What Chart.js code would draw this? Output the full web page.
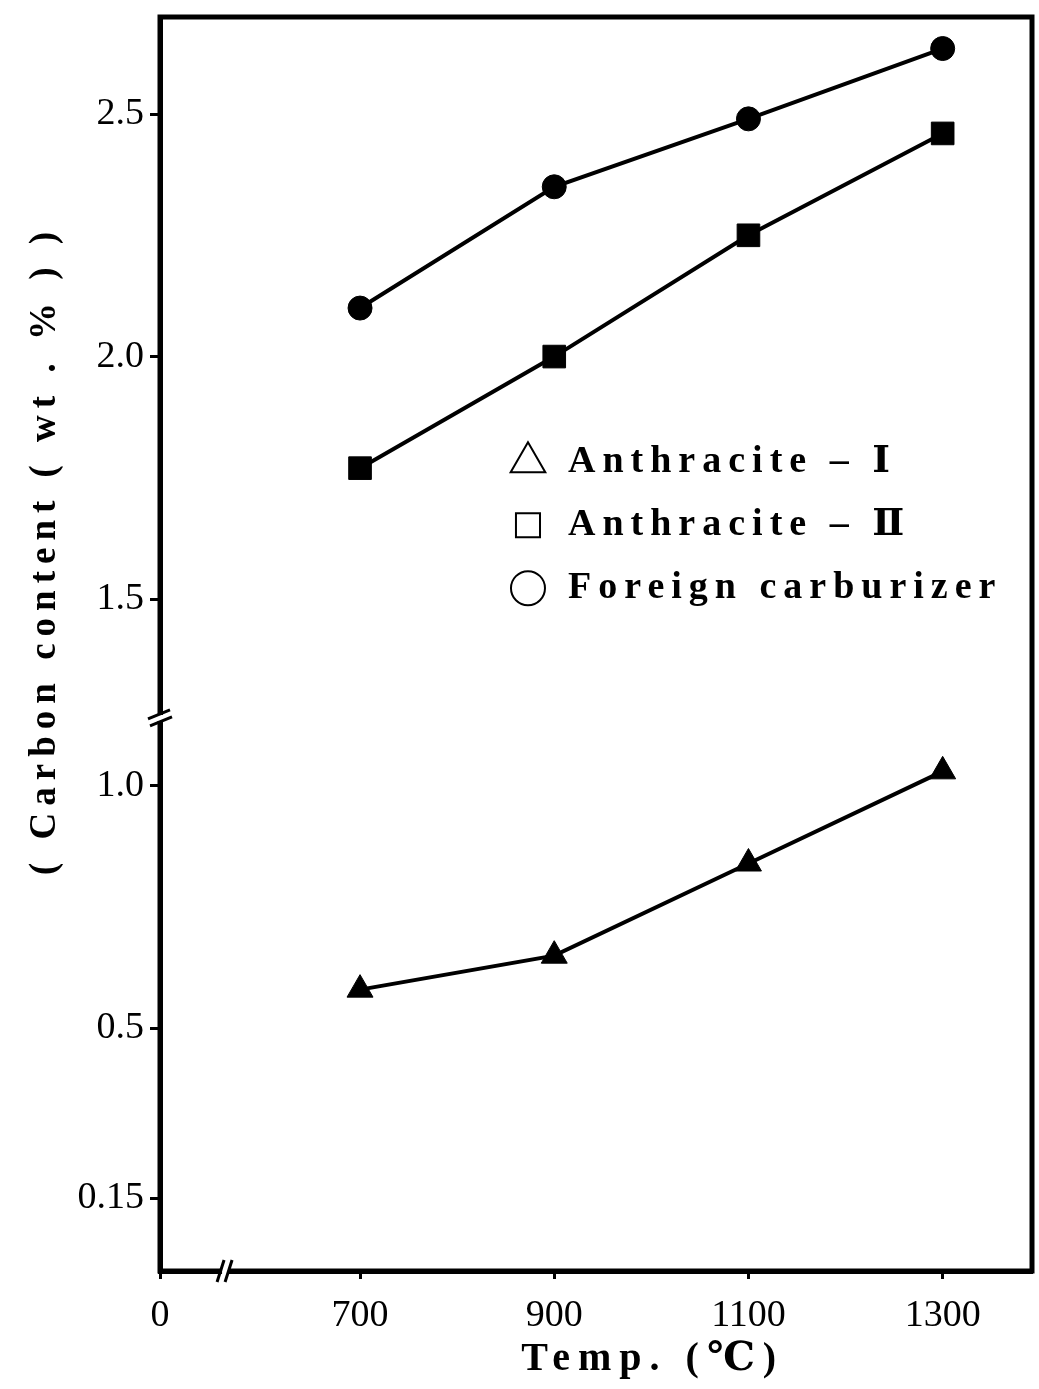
<!DOCTYPE html>
<html>
<head>
<meta charset="utf-8">
<title>Carbon content vs temperature</title>
<script src="https://cdn.jsdelivr.net/npm/chart.js@4.4.1/dist/chart.umd.min.js"></script>
<style>
  html, body { margin: 0; padding: 0; background: #fff; }
  canvas { display: block; }
</style>
</head>
<body>
<canvas id="myChart" width="1039" height="1389"></canvas>
<script>
// values
var temps = [700, 900, 1100, 1300];
var anthraciteI = [0.58, 0.65, 0.84, 1.03];
var anthraciteII = [1.77, 2.00, 2.25, 2.46];
var foreignCarburizer = [2.10, 2.35, 2.49, 2.635];

var seriesNames = ['Anthracite – Ⅰ', 'Anthracite – Ⅱ', 'Foreign carburizer'];
var xTicks = [0, 700, 900, 1100, 1300];
var yTicks = [0.15, 0.5, 1.0, 1.5, 2.0, 2.5];
var yTickLabels = ['0.15', '0.5', '1.0', '1.5', '2.0', '2.5'];
var xTitle = 'Temp. (℃)';
var yTitle = '( Carbon content ( wt . % ) )';

var serif = '"Liberation Serif", "DejaVu Serif", serif';

// linear scale with one cut-out piece (the broken axes of the figure)
class BrokenLinearScale extends Chart.LinearScale {
    fold(v) {
        var b = this.options.brk;
        if (!b || v <= b.from) return v;
        if (v >= b.to) return v - (b.to - b.from);
        return b.from;
    }
    configure() {
        super.configure();
        this._startValue = this.fold(this.min);
        this._endValue = this.fold(this.max);
        this._valueRange = this._endValue - this._startValue;
    }
    getPixelForValue(value) {
        return super.getPixelForValue(value == null ? value : this.fold(value));
    }
    getValueForPixel(pixel) {
        var v = super.getValueForPixel(pixel);
        var b = this.options.brk;
        return b && v > b.from ? v + (b.to - b.from) : v;
    }
}
BrokenLinearScale.id = 'brokenLinear';
BrokenLinearScale.defaults = {};
Chart.register(BrokenLinearScale);

function toPoints(values) {
    return temps.map(function (t, i) { return { x: t, y: values[i] }; });
}

// frame, break marks, titles and the boxed legend
var decorations = {
    id: 'decorations',
    afterDraw: function (chart) {
        var ctx = chart.ctx;
        var ca = chart.chartArea;
        var xs = chart.scales.x, ys = chart.scales.y;

        ctx.save();
        ctx.strokeStyle = '#000';
        ctx.lineWidth = 5;
        ctx.strokeRect(ca.left, ca.top, ca.right - ca.left, ca.bottom - ca.top);

        // break marks
        ctx.lineWidth = 3;
        var by = ys.getPixelForValue(ys.options.brk.from);
        ctx.fillStyle = '#fff';
        ctx.fillRect(ca.left - 4, by - 3, 8, 6);
        ctx.beginPath();
        ctx.moveTo(ca.left - 12, by + 1); ctx.lineTo(ca.left + 10, by - 8);
        ctx.moveTo(ca.left - 10, by + 8); ctx.lineTo(ca.left + 12, by - 1);
        ctx.stroke();
        var bx = xs.getPixelForValue(xs.options.brk.from);
        ctx.fillRect(bx - 3, ca.bottom - 4, 6, 8);
        ctx.beginPath();
        ctx.moveTo(bx - 8, ca.bottom + 11); ctx.lineTo(bx - 1, ca.bottom - 11);
        ctx.moveTo(bx, ca.bottom + 11); ctx.lineTo(bx + 7, ca.bottom - 11);
        ctx.stroke();

        // axis titles
        ctx.fillStyle = '#000';
        ctx.textAlign = 'center';
        ctx.textBaseline = 'middle';
        ctx.font = 'bold 37px ' + serif;
        ctx.letterSpacing = '7px';
        ctx.save();
        ctx.translate(45, ca.top + (ca.bottom - ca.top) * 0.425);
        ctx.rotate(-Math.PI / 2);
        ctx.fillText(yTitle, 0, 0);
        ctx.restore();
        ctx.font = 'bold 40px ' + serif;
        ctx.letterSpacing = '8px';
        ctx.fillText(xTitle, ca.left + (ca.right - ca.left) * 0.565, 1360);

        // legend with open symbols
        var lx = ca.left + (ca.right - ca.left) * 0.422;
        var ly = ca.top + (ca.bottom - ca.top) * 0.355;
        var sizes = { triangle: 20, rect: 17, circle: 17 };
        ctx.font = 'bold 38px ' + serif;
        ctx.letterSpacing = '7px';
        ctx.textAlign = 'left';
        chart.data.datasets.forEach(function (ds, i) {
            var y = ly + i * 63;
            ctx.fillStyle = '#fff';
            ctx.strokeStyle = '#000';
            ctx.lineWidth = 2;
            Chart.helpers.drawPoint(ctx, {
                pointStyle: ds.pointStyle, radius: sizes[ds.pointStyle],
                rotation: 0, borderWidth: 2
            }, lx, y);
            ctx.fillStyle = '#000';
            ctx.fillText(ds.label, lx + 40, y);
        });
        ctx.restore();
    }
};

function seriesStyle(style, radius) {
    return {
        pointStyle: style,
        pointRadius: radius,
        pointHoverRadius: radius,
        borderColor: '#000',
        backgroundColor: '#000',
        pointBackgroundColor: '#000',
        pointBorderColor: '#000',
        pointBorderWidth: 1,
        borderWidth: 4,
        tension: 0
    };
}

var ctx = document.getElementById('myChart').getContext('2d');
var myChart = new Chart(ctx, {
    type: 'line',
    data: {
        datasets: [
            Object.assign({ label: seriesNames[0], data: toPoints(anthraciteI) }, seriesStyle('triangle', 15)),
            Object.assign({ label: seriesNames[1], data: toPoints(anthraciteII) }, seriesStyle('rect', 16)),
            Object.assign({ label: seriesNames[2], data: toPoints(foreignCarburizer) }, seriesStyle('circle', 12))
        ]
    },
    options: {
        responsive: false,
        animation: false,
        layout: { autoPadding: false, padding: { top: 17, right: 7, left: 0, bottom: 0 } },
        scales: {
            x: {
                type: 'brokenLinear',
                position: 'bottom',
                min: 0,
                max: 1392,
                bounds: 'data',
                brk: { from: 67, to: 561 },
                afterBuildTicks: function (scale) {
                    scale.ticks = xTicks.map(function (v) { return { value: v }; });
                },
                afterFit: function (scale) {
                    scale.height = 118;
                    scale.paddingLeft = 0;
                    scale.paddingRight = 0;
                },
                grid: { drawOnChartArea: false, drawTicks: true, tickLength: 8, tickWidth: 3, tickColor: '#000' },
                border: { display: true, color: '#000', width: 5 },
                ticks: {
                    autoSkip: false,
                    maxRotation: 0,
                    padding: 14,
                    color: '#000',
                    font: { family: serif, size: 38 },
                    callback: function (value, i) { return String(xTicks[i]); }
                }
            },
            y: {
                type: 'brokenLinear',
                position: 'left',
                min: 0,
                max: 2.70,
                bounds: 'data',
                brk: { from: 1.14, to: 1.255 },
                afterBuildTicks: function (scale) {
                    scale.ticks = yTicks.map(function (v) { return { value: v }; });
                },
                afterFit: function (scale) {
                    scale.width = 160;
                    scale.paddingTop = 0;
                    scale.paddingBottom = 0;
                },
                grid: { drawOnChartArea: false, drawTicks: true, tickLength: 10, tickWidth: 3, tickColor: '#000' },
                border: { display: true, color: '#000', width: 5 },
                ticks: {
                    autoSkip: false,
                    padding: 6,
                    color: '#000',
                    font: { family: serif, size: 38 },
                    callback: function (value, i) { return yTickLabels[i]; }
                }
            }
        },
        plugins: {
            legend: { display: false },
            tooltip: { enabled: false }
        }
    },
    plugins: [decorations]
});
</script>
</body>
</html>
